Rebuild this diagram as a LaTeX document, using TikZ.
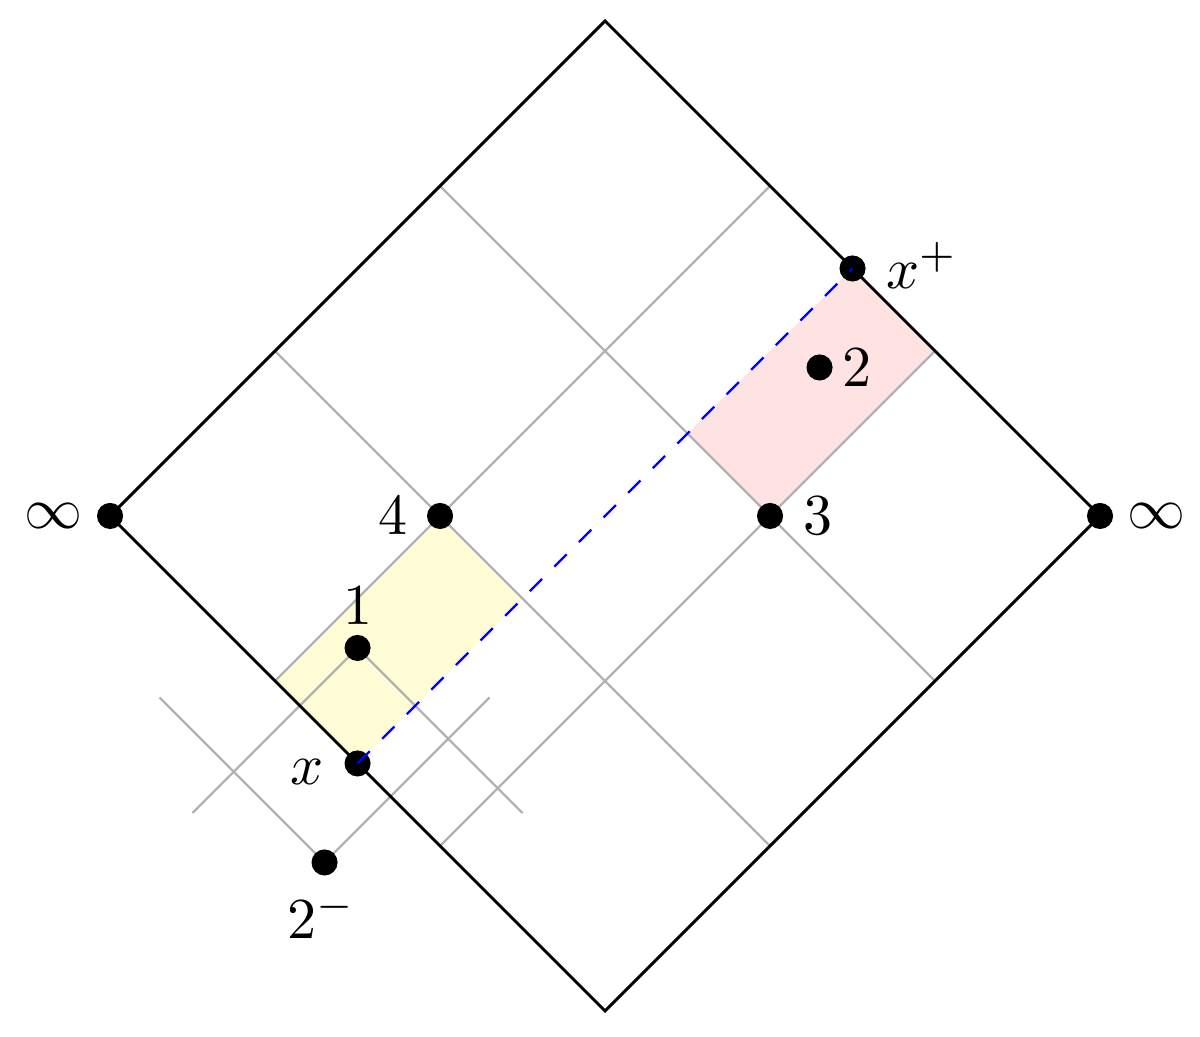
\documentclass[tikz,border=0pt]{standalone}
\usetikzlibrary{calc}
\begin{document}
\begin{tikzpicture}[x=1cm,y=1cm,
  gridline/.style={draw=gray!60,line width=0.4pt},
  edge/.style={draw=black,line width=0.5pt},
  dot/.style={circle,fill=black,inner sep=0pt,minimum size=4.5pt},
  lbl/.style={inner sep=0pt},
  nullray/.style={draw=blue,dashed,line width=0.4pt}]
\useasboundingbox (-0.667,-3.152) rectangle (6.606,3.127);
% key points
\coordinate (L) at (0,0);
\coordinate (T) at (3,3);
\coordinate (R) at (6,0);
\coordinate (B) at (3,-3);
\coordinate (c4) at (2,0);
\coordinate (c3) at (4,0);
\coordinate (c1) at (1.5,-0.8);
\coordinate (cx) at (1.5,-1.5);
\coordinate (cxp) at (4.5,1.5);
\coordinate (c2) at (4.3,0.9);
\coordinate (c2m) at (1.3,-2.1);
% regions
\fill[yellow!16] (1,-1) -- (c4) -- (2.5,-0.5) -- (cx) -- cycle;
\fill[red!11] (3.5,0.5) -- (cxp) -- (5,1) -- (c3) -- cycle;
% grid
\coordinate (g1a) at (1,1);   \coordinate (g1b) at (4,-2);
\coordinate (g2a) at (2,2);   \coordinate (g2b) at (5,-1);
\coordinate (g3a) at (1,-1);  \coordinate (g3b) at (4,2);
\coordinate (g4a) at (2,-2);  \coordinate (g4b) at (5,1);
\path[gridline] (g1a) -- (g1b);
\path[gridline] (g2a) -- (g2b);
\path[gridline] (g3a) -- (g3b);
\path[gridline] (g4a) -- (g4b);
% light cone lines of 1 and 2^-
\coordinate (c1l) at (0.5,-1.8);
\coordinate (c1r) at (2.5,-1.8);
\coordinate (c2l) at (0.3,-1.1);
\coordinate (c2r) at (2.3,-1.1);
\path[gridline] (c1l) -- (c1) -- (c1r);
\path[gridline] (c2l) -- (c2m) -- (c2r);
% diamond
\path[edge] (L) -- (T) -- (R) -- (B) -- cycle;
% dots
\node[dot] (Ld) at (L) {};
\node[dot] (Rd) at (R) {};
\node[dot] (p4) at (c4) {};
\node[dot] (p3) at (c3) {};
\node[dot] (p1) at (c1) {};
\node[dot] (px) at (cx) {};
\node[dot] (pxp) at (cxp) {};
\node[dot] (p2) at (c2) {};
\node[dot] (p2m) at (c2m) {};
\path[nullray] (px.center) -- (pxp.center);
% labels
\node[lbl] (tLinf) at (-0.34,0) {$\infty$};
\node[lbl] (tRinf) at (6.345,0) {$\infty$};
\node[lbl] (t4) at (1.715,0) {$4$};
\node[lbl] (t3) at (4.29,0) {$3$};
\node[lbl] (t1) at (1.5,-0.545) {$1$};
\node[lbl] (tx) at (1.194,-1.55) {$x$};
\node[lbl] (t2m) at (1.28,-2.42) {$2^-$};
\node[lbl] (txp) at (4.92,1.52) {$x^+$};
\node[lbl] (t2) at (4.53,0.897) {$2$};
\end{tikzpicture}
\end{document}
